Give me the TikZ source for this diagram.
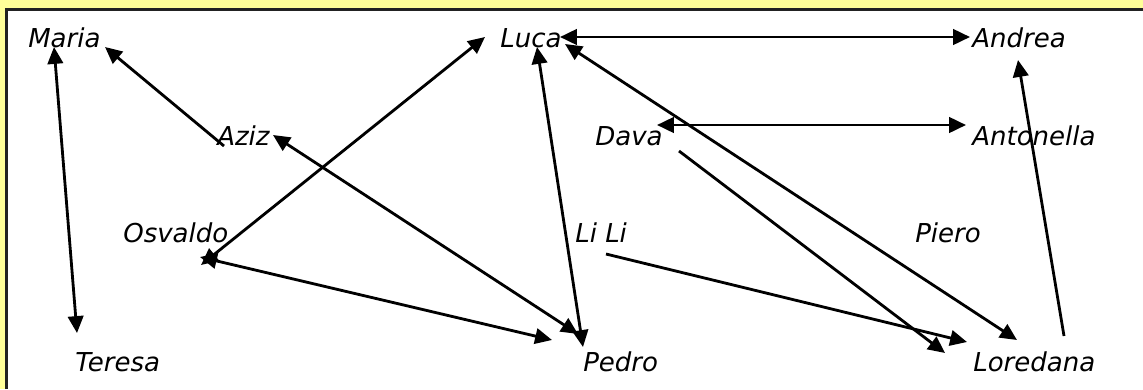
\documentclass[tikz,border=0pt]{standalone}
\usepackage{fontspec}
\setmainfont{DejaVu Sans}
\usetikzlibrary{arrows.meta,positioning}
\definecolor{paneyellow}{HTML}{FFFF99}
\definecolor{paneline}{HTML}{222222}
\tikzset{
	%Define standard arrow tip
	>={Triangle[length=12pt,width=11pt]},
	%Define style for names
	person/.style={
		anchor=base west,
		inner sep=0pt,
		font=\fontsize{18.5}{22}\selectfont\itshape},
	% Define arrow style
	link/.style={
		line width=2pt}
}

\begin{document}
\begin{tikzpicture}[x=0.025cm, y=-0.025cm]
	\useasboundingbox (0,0) rectangle (1143,389);
	% frame
	\fill[paneyellow] (0,0) rectangle (1143,389);
	\fill[white] (6,9) rectangle (1143,389);
	\draw[paneline,line width=1.5pt] (6.5,389) -- (6.5,9.5) -- (1143,9.5);
	% names
	\node[person] (maria) at (28,47) {Maria};
	\node[person] (luca) at (500,47) {Luca};
	\node[person] (andrea) at (972,47) {Andrea};
	\node[person] (aziz) at (217,145) {Aziz};
	\node[person] (dava) at (595,145) {Dava};
	\node[person] (antonella) at (972,145) {Antonella};
	\node[person] (osvaldo) at (123,242) {Osvaldo};
	\node[person] (lili) at (575,242) {Li Li};
	\node[person] (piero) at (915,242) {Piero};
	\node[person] (teresa) at (75,371) {Teresa};
	\node[person] (pedro) at (583,371) {Pedro};
	\node[person] (loredana) at (973,371) {Loredana};
	% connector ends
	\coordinate (maria-a) at (54,47);
	\coordinate (maria-b) at (105,47);
	\coordinate (teresa-a) at (77,333);
	\coordinate (aziz-a) at (224,146);
	\coordinate (aziz-b) at (273,135);
	\coordinate (osvaldo-a) at (201,265);
	\coordinate (osvaldo-b) at (200,257);
	\coordinate (luca-a) at (485,37);
	\coordinate (luca-b) at (537,47);
	\coordinate (luca-c) at (565,44);
	\coordinate (luca-d) at (560,37);
	\coordinate (andrea-a) at (970,37);
	\coordinate (andrea-b) at (1018,60);
	\coordinate (dava-a) at (657,125);
	\coordinate (dava-b) at (679,151);
	\coordinate (antonella-a) at (966,125);
	\coordinate (lili-a) at (606,254);
	\coordinate (pedro-a) at (578,334);
	\coordinate (pedro-b) at (552,340);
	\coordinate (pedro-c) at (583,347);
	\coordinate (loredana-a) at (1017,340);
	\coordinate (loredana-b) at (945,353);
	\coordinate (loredana-c) at (967,342);
	\coordinate (loredana-d) at (1064,336);
	% links
	\draw[link,<->] (maria-a) -- (teresa-a);
	\draw[link,->] (aziz-a) -- (maria-b);
	\draw[link,<->] (aziz-b) -- (pedro-a);
	\draw[link,<->] (osvaldo-a) -- (luca-a);
	\draw[link,<->] (osvaldo-b) -- (pedro-b);
	\draw[link,<->] (luca-b) -- (pedro-c);
	\draw[link,<->] (luca-d) -- (andrea-a);
	\draw[link,<->] (luca-c) -- (loredana-a);
	\draw[link,<->] (dava-a) -- (antonella-a);
	\draw[link,->] (dava-b) -- (loredana-b);
	\draw[link,->] (lili-a) -- (loredana-c);
	\draw[link,->] (loredana-d) -- (andrea-b);
\end{tikzpicture}
\end{document}
